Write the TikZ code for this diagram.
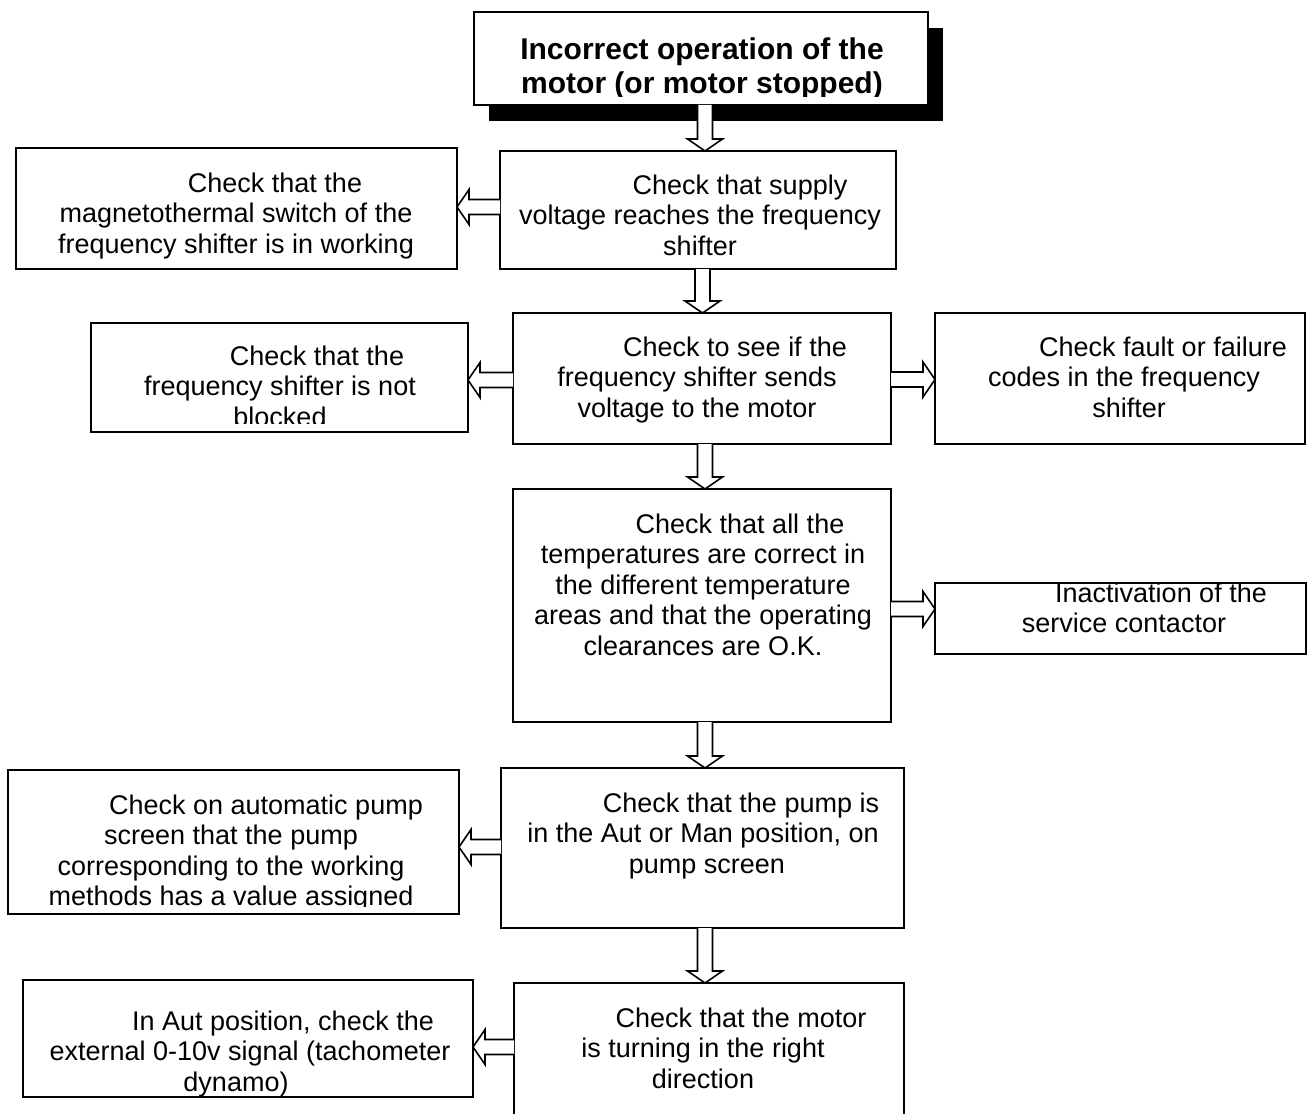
\documentclass[tikz,border=0pt]{standalone}
\usepackage{fontspec}
\setmainfont{Liberation Sans}
\usetikzlibrary{calc,shadows}
\newcommand\arrdown[3]{%
  \draw[blk] let \p1=(#1,0 |- #2.south), \p2=(#1,0 |- #3.north) in
    (\x1-7.5pt,\y1) -- (\x1-7.5pt,\y2+12pt) -- (\x1-17.5pt,\y2+12pt) -- (\x1,\y2)
    -- (\x1+17.5pt,\y2+12pt) -- (\x1+7.5pt,\y2+12pt) -- (\x1+7.5pt,\y1);}
\newcommand\arrleft[3]{%
  \draw[blk] let \p1=(#2.west |- 0,#1), \p2=(#3.east |- 0,#1) in
    (\x1,\y1-7.5pt) -- (\x2+12pt,\y1-7.5pt) -- (\x2+12pt,\y1-17.5pt) -- (\x2,\y1)
    -- (\x2+12pt,\y1+17.5pt) -- (\x2+12pt,\y1+7.5pt) -- (\x1,\y1+7.5pt);}
\newcommand\arrright[3]{%
  \draw[blk] let \p1=(#2.east |- 0,#1), \p2=(#3.west |- 0,#1) in
    (\x1,\y1-7.5pt) -- (\x2-12pt,\y1-7.5pt) -- (\x2-12pt,\y1-17.5pt) -- (\x2,\y1)
    -- (\x2-12pt,\y1+17.5pt) -- (\x2-12pt,\y1+7.5pt) -- (\x1,\y1+7.5pt);}
\begin{document}
\begin{tikzpicture}[x=1pt,y=-1pt,
  box/.style={draw, line width=1.6pt, inner sep=0pt, outer sep=0pt, fill=white},
  blk/.style={draw, fill=white, line width=1.6pt, line join=miter},
  txt/.style={align=center, inner sep=0pt, anchor=base, font=\fontsize{27}{30.5}\selectfont},
  ttl/.style={align=center, inner sep=0pt, anchor=base, font=\fontsize{30}{34}\selectfont\bfseries}]
\useasboundingbox (0,0) rectangle (1308,1113);
\fill[white] (0,0) rectangle (1308,1113);

% boxes
\node[box, minimum width=454pt, minimum height=93pt,
  drop shadow={shadow xshift=15pt, shadow yshift=-16pt, fill=black, opacity=1}] (top) at (701,58.5) {};
\node[box, minimum width=396pt, minimum height=118pt] (supply) at (698,210) {};
\node[box, minimum width=441pt, minimum height=121pt] (magneto) at (236.5,208.5) {};
\node[box, minimum width=378pt, minimum height=131pt] (sends) at (702,378.5) {};
\node[box, minimum width=377pt, minimum height=109pt] (blocked) at (279.5,377.5) {};
\node[box, minimum width=370pt, minimum height=131pt] (fault) at (1120,378.5) {};
\node[box, minimum width=378pt, minimum height=233pt] (temps) at (702,605.5) {};
\node[box, minimum width=371pt, minimum height=71pt] (inact) at (1120.5,618.5) {};
\node[box, minimum width=403pt, minimum height=160pt] (pump) at (702.5,848) {};
\node[box, minimum width=451pt, minimum height=144pt] (screen) at (233.5,842) {};
\node[box, minimum width=390pt, minimum height=147pt] (motor) at (709,1056.5) {};
\node[box, minimum width=450pt, minimum height=117pt] (autpos) at (248,1038.5) {};

% texts (anchor base = baseline of last line)
\begin{scope}
  \clip (474,12) rectangle (928,97);
  \node[ttl] (ttop) at (702,94) {Incorrect operation of the\\motor (or motor stopped)};
\end{scope}
\node[txt] (tsupply) at (700,255) {\hspace*{80pt}Check that supply\\voltage reaches the frequency\\shifter};
\node[txt] (tmagneto) at (236,253) {\hspace*{78pt}Check that the\\magnetothermal switch of the\\frequency shifter is in working};
\node[txt] (tsends) at (697,417) {\hspace*{76pt}Check to see if the\\frequency shifter sends\\voltage to the motor};
\begin{scope}
  \clip (91,323) rectangle (468,423);
  \node[txt] (tblocked) at (280,426) {\hspace*{74pt}Check that the\\frequency shifter is not\\blocked};
\end{scope}
\node[txt] (tfault) at (1124,417) {\hspace*{78pt}Check fault or failure\\codes in the frequency\\\hspace*{10pt}shifter};
\node[txt] (ttemps) at (703,655) {\hspace*{74pt}Check that all the\\temperatures are correct in\\the different temperature\\areas and that the operating\\clearances are O.K.};
\node[txt] (tinact) at (1124,632.5) {\hspace*{74pt}Inactivation of the\\service contactor};
\node[txt] (tpump) at (703,873) {\hspace*{76pt}Check that the pump is\\in the Aut or Man position, on\\\hspace*{8pt}pump screen};
\begin{scope}
  \clip (8,770) rectangle (459,906);
  \node[txt] (tscreen) at (231,905.5) {\hspace*{70pt}Check on automatic pump\\screen that the pump\\corresponding to the working\\methods has a value assigned};
\end{scope}
\node[txt] (tmotor) at (703,1088) {\hspace*{76pt}Check that the motor\\is turning in the right\\direction};
\node[txt] (tautpos) at (250,1091) {\hspace*{66pt}In Aut position, check the\\external 0-10v signal (tachometer\\dynamo)\hspace*{28pt}};

% arrows
\arrdown{705}{top}{supply}
\arrdown{702.5}{supply}{sends}
\arrdown{705}{sends}{temps}
\arrdown{705}{temps}{pump}
\arrdown{705}{pump}{motor}
\arrleft{207}{supply}{magneto}
\arrleft{380}{sends}{blocked}
\arrleft{847}{pump}{screen}
\arrleft{1047}{motor}{autpos}
\arrright{379.5}{sends}{fault}
\arrright{609}{temps}{inact}
\end{tikzpicture}
\end{document}
